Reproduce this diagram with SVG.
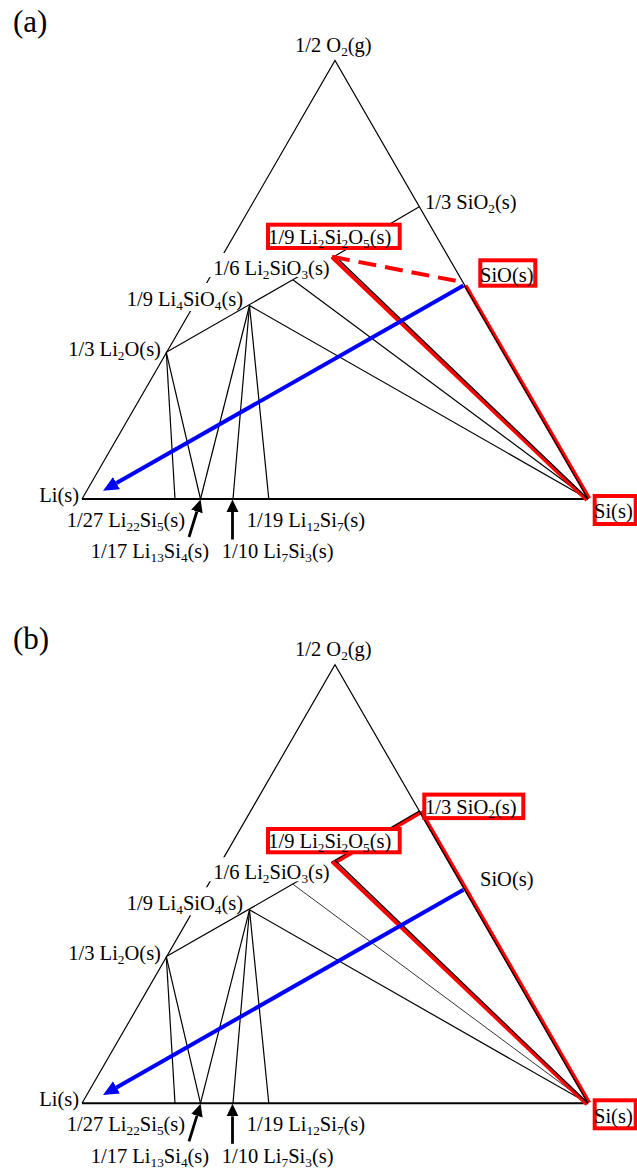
<svg xmlns="http://www.w3.org/2000/svg" width="637" height="1176" viewBox="0 0 637 1176">
<defs>
<style>
.ln{stroke:#000;stroke-width:1.2;fill:none}
.thin{stroke:#000;stroke-width:0.8;fill:none}
.base{stroke:#000;stroke-width:2;fill:none}
.red{stroke:#f00;stroke-width:4;fill:none}
.dash{stroke:#f00;stroke-width:4;fill:none;stroke-dasharray:18 9}
.blue{stroke:#00f;stroke-width:4;fill:none}
.arw{stroke:#000;stroke-width:2.8;fill:none}
.t{font-family:"Liberation Serif","Times New Roman",serif;font-size:20.5px;fill:#000}
.s{font-size:13.3px}
.big{font-family:"Liberation Serif","Times New Roman",serif;font-size:31px;fill:#000}
.box{fill:#fff;stroke:#f00;stroke-width:4}
.bg{fill:#fff}
</style>
<marker id="ah" markerUnits="userSpaceOnUse" markerWidth="14" markerHeight="14" viewBox="0 -7 14 14" refX="0" refY="0" orient="auto"><path d="M0,-6 L12.5,0 L0,6 z" fill="#000"/></marker>
<marker id="ahb" markerUnits="userSpaceOnUse" markerWidth="17" markerHeight="17" viewBox="0 -8.5 17 17" refX="0" refY="0" orient="auto"><path d="M0,-7 L15.5,0 L0,7 z" fill="#00f"/></marker>
</defs>
<rect width="637" height="1176" fill="#fff"/>

<!-- ================= PANEL (a) ================= -->
<g id="panel-a">
<text id="label-a" class="big" x="13" y="31.5">(a)</text>
<g id="connectors-a">
<path class="base" d="M82,499 L588,499"/>
<path class="ln" d="M82,499 L335,60.5 L588,499"/>
<path class="ln" d="M166.3,352.3 L292.8,279.8"/>
<path class="ln" d="M292.8,279.8 L335,256"/>
<path class="ln" d="M335,256 L419.3,206.8"/>
<path class="ln" d="M166.3,352.3 L175,499"/>
<path class="ln" d="M166.3,352.3 L200.5,499"/>
<path class="ln" d="M249.5,305.5 L200.5,499"/>
<path class="ln" d="M249.5,305.5 L233,499"/>
<path class="ln" d="M249.5,305.5 L268.8,499"/>
<path class="ln" d="M249.5,305.5 L588,499"/>
<path class="ln" d="M292.8,279.8 L588,499"/>
<path class="red" d="M332.5,257.5 L587,500"/>
<path class="red" d="M465.5,285.5 L589.2,498.5"/>
<path class="ln" d="M335,256 L588,499"/>
<path class="ln" d="M464.3,285.5 L588,499"/>
<path class="dash" d="M332,256.7 L463.3,282.3"/>
<path class="blue" d="M463.5,285.5 L116.5,483.1" marker-end="url(#ahb)"/>
<path class="arw" d="M189,537 L196.9,511.5" marker-end="url(#ah)"/>
<path class="arw" d="M232.5,539.5 L232.5,512" marker-end="url(#ah)"/>
</g>
<g id="nodes-a">
<g id="a-O2"><text class="t" x="295" y="52.2">1/2 O<tspan class="s" dy="4">2</tspan><tspan dy="-4">(g)</tspan></text></g>
<g id="a-SiO2"><text class="t" x="425" y="209.3">1/3 SiO<tspan class="s" dy="4">2</tspan><tspan dy="-4">(s)</tspan></text></g>
<g id="a-Li2Si2O5"><rect class="box" x="268" y="224.7" width="131.7" height="23.3"/><text class="t" x="268.3" y="244">1/9 Li<tspan class="s" dy="4">2</tspan><tspan dy="-4">Si</tspan><tspan class="s" dy="4">2</tspan><tspan dy="-4">O</tspan><tspan class="s" dy="4">5</tspan><tspan dy="-4">(s)</tspan></text></g>
<g id="a-Li2SiO3"><rect class="bg" x="205" y="253" width="126" height="24"/><text class="t" x="213.3" y="275">1/6 Li<tspan class="s" dy="4">2</tspan><tspan dy="-4">SiO</tspan><tspan class="s" dy="4">3</tspan><tspan dy="-4">(s)</tspan></text></g>
<g id="a-Li4SiO4"><rect class="bg" x="124" y="283" width="112" height="28"/><text class="t" x="126.7" y="306">1/9 Li<tspan class="s" dy="4">4</tspan><tspan dy="-4">SiO</tspan><tspan class="s" dy="4">4</tspan><tspan dy="-4">(s)</tspan></text></g>
<g id="a-Li2O"><text class="t" x="68.3" y="356">1/3 Li<tspan class="s" dy="4">2</tspan><tspan dy="-4">O(s)</tspan></text></g>
<g id="a-SiO"><rect class="box" x="480.3" y="260.3" width="55" height="25.4"/><text class="t" x="480" y="281.7">SiO(s)</text></g>
<g id="a-Li"><text class="t" x="39.3" y="501.7">Li(s)</text></g>
<g id="a-Si"><rect class="box" x="594.7" y="496" width="41" height="28"/><text class="t" x="594" y="518.3">Si(s)</text></g>
<g id="a-Li22Si5"><text class="t" x="66.7" y="526.7">1/27 Li<tspan class="s" dy="4">22</tspan><tspan dy="-4">Si</tspan><tspan class="s" dy="4">5</tspan><tspan dy="-4">(s)</tspan></text></g>
<g id="a-Li12Si7"><text class="t" x="246.7" y="526.7">1/19 Li<tspan class="s" dy="4">12</tspan><tspan dy="-4">Si</tspan><tspan class="s" dy="4">7</tspan><tspan dy="-4">(s)</tspan></text></g>
<g id="a-Li13Si4"><text class="t" x="90.7" y="558.3">1/17 Li<tspan class="s" dy="4">13</tspan><tspan dy="-4">Si</tspan><tspan class="s" dy="4">4</tspan><tspan dy="-4">(s)</tspan></text></g>
<g id="a-Li7Si3"><text class="t" x="221.7" y="558.3">1/10 Li<tspan class="s" dy="4">7</tspan><tspan dy="-4">Si</tspan><tspan class="s" dy="4">3</tspan><tspan dy="-4">(s)</tspan></text></g>
</g>
</g>

<!-- ================= PANEL (b) ================= -->
<g id="panel-b">
<text id="label-b" class="big" x="13" y="648.5">(b)</text>
<g transform="translate(0,604.3)">
<g id="connectors-b">
<path class="base" d="M82,499 L588,499"/>
<path class="ln" d="M82,499 L335,60.5 L588,499"/>
<path class="ln" d="M166.3,352.3 L292.8,279.8"/>
<path class="ln" d="M292.8,279.8 L335,256"/>
<path class="ln" d="M166.3,352.3 L175,499"/>
<path class="ln" d="M166.3,352.3 L200.5,499"/>
<path class="ln" d="M249.5,305.5 L200.5,499"/>
<path class="ln" d="M249.5,305.5 L233,499"/>
<path class="ln" d="M249.5,305.5 L268.8,499"/>
<path class="ln" d="M249.5,305.5 L588,499"/>
<path class="thin" d="M292.8,279.8 L588,499"/>
<path class="red" d="M420,208.5 L335.5,258"/>
<path class="red" d="M332.5,257.5 L587,500"/>
<path class="red" d="M421,207 L589.2,498.5"/>
<path class="ln" d="M335,256 L419.3,206.8"/>
<path class="ln" d="M335,256 L588,499"/>
<path class="ln" d="M419.3,206.8 L588,499"/>
<path class="blue" d="M463.5,285.5 L116.5,483.1" marker-end="url(#ahb)"/>
<path class="arw" d="M189,537 L196.9,511.5" marker-end="url(#ah)"/>
<path class="arw" d="M232.5,539.5 L232.5,512" marker-end="url(#ah)"/>
</g>
<g id="nodes-b">
<g id="b-O2"><text class="t" x="295" y="52.2">1/2 O<tspan class="s" dy="4">2</tspan><tspan dy="-4">(g)</tspan></text></g>
<g id="b-SiO2"><rect class="box" x="424.3" y="190.3" width="99" height="23.5"/><text class="t" x="425" y="209.3">1/3 SiO<tspan class="s" dy="4">2</tspan><tspan dy="-4">(s)</tspan></text></g>
<g id="b-Li2Si2O5"><rect class="box" x="268" y="224.7" width="131.7" height="23.3"/><text class="t" x="268.3" y="244">1/9 Li<tspan class="s" dy="4">2</tspan><tspan dy="-4">Si</tspan><tspan class="s" dy="4">2</tspan><tspan dy="-4">O</tspan><tspan class="s" dy="4">5</tspan><tspan dy="-4">(s)</tspan></text></g>
<g id="b-Li2SiO3"><rect class="bg" x="205" y="253" width="126" height="24"/><text class="t" x="213.3" y="275">1/6 Li<tspan class="s" dy="4">2</tspan><tspan dy="-4">SiO</tspan><tspan class="s" dy="4">3</tspan><tspan dy="-4">(s)</tspan></text></g>
<g id="b-Li4SiO4"><rect class="bg" x="124" y="283" width="112" height="28"/><text class="t" x="126.7" y="306">1/9 Li<tspan class="s" dy="4">4</tspan><tspan dy="-4">SiO</tspan><tspan class="s" dy="4">4</tspan><tspan dy="-4">(s)</tspan></text></g>
<g id="b-Li2O"><text class="t" x="68.3" y="356">1/3 Li<tspan class="s" dy="4">2</tspan><tspan dy="-4">O(s)</tspan></text></g>
<g id="b-SiO"><text class="t" x="480" y="281.7">SiO(s)</text></g>
<g id="b-Li"><text class="t" x="39.3" y="501.7">Li(s)</text></g>
<g id="b-Si"><rect class="box" x="594.7" y="496" width="41" height="28"/><text class="t" x="594" y="518.3">Si(s)</text></g>
<g id="b-Li22Si5"><text class="t" x="66.7" y="526.7">1/27 Li<tspan class="s" dy="4">22</tspan><tspan dy="-4">Si</tspan><tspan class="s" dy="4">5</tspan><tspan dy="-4">(s)</tspan></text></g>
<g id="b-Li12Si7"><text class="t" x="246.7" y="526.7">1/19 Li<tspan class="s" dy="4">12</tspan><tspan dy="-4">Si</tspan><tspan class="s" dy="4">7</tspan><tspan dy="-4">(s)</tspan></text></g>
<g id="b-Li13Si4"><text class="t" x="90.7" y="558.3">1/17 Li<tspan class="s" dy="4">13</tspan><tspan dy="-4">Si</tspan><tspan class="s" dy="4">4</tspan><tspan dy="-4">(s)</tspan></text></g>
<g id="b-Li7Si3"><text class="t" x="221.7" y="558.3">1/10 Li<tspan class="s" dy="4">7</tspan><tspan dy="-4">Si</tspan><tspan class="s" dy="4">3</tspan><tspan dy="-4">(s)</tspan></text></g>
</g>
</g>
</g>
</svg>
